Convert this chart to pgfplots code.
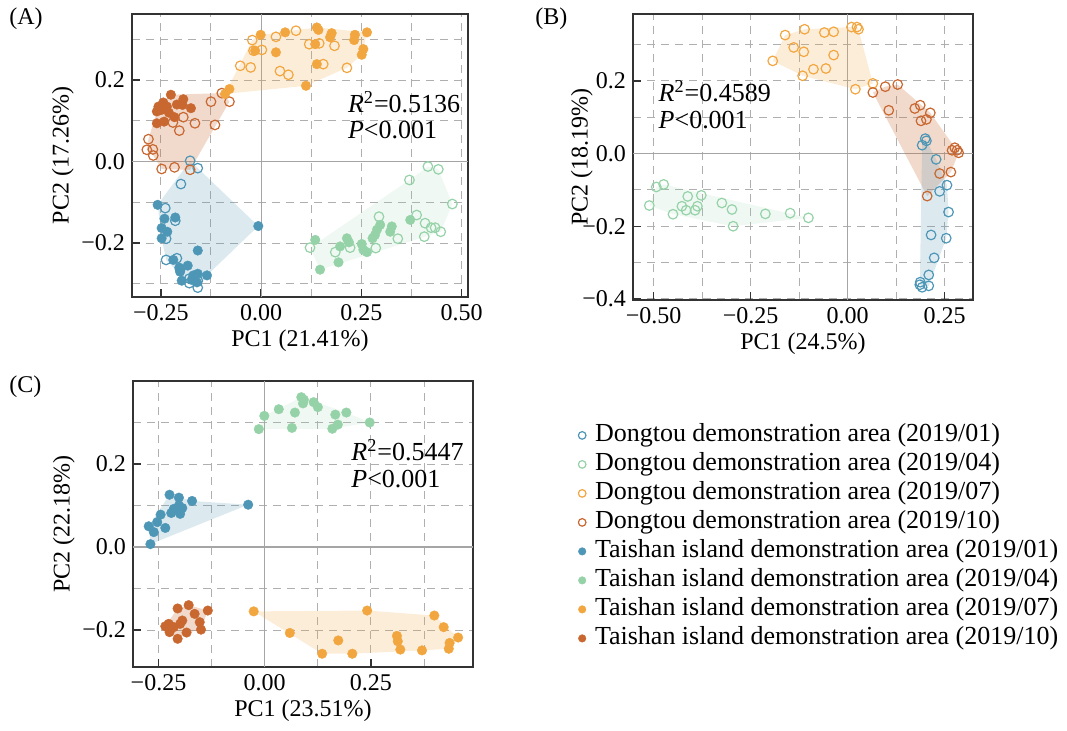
\documentclass[border=0pt]{standalone}
\usepackage{fontspec}
\setmainfont{Liberation Serif}
\usepackage{pgfplots}
\pgfplotsset{compat=1.18}
\definecolor{cB}{RGB}{78,150,182}
\definecolor{cG}{RGB}{150,210,168}
\definecolor{cO}{RGB}{242,166,64}
\definecolor{cR}{RGB}{200,104,48}
\definecolor{gridc}{RGB}{175,175,175}
\definecolor{zeroc}{RGB}{165,165,165}
\newcommand\fsA{\fontsize{12}{14}\selectfont}
\newcommand\fsB{\fontsize{13}{15}\selectfont}
\pgfplotsset{
 pcastyle/.style={
  scale only axis, anchor=south west,
  axis line style={draw=black!80, line width=0.7pt},
  tick align=inside, major tick length=4pt, minor tick length=0pt,
  tick pos=left,
  tick style={draw=black!80, line width=0.7pt},
  grid=both,
  major grid style={draw=gridc, line width=0.5pt, dash pattern=on 4pt off 3pt},
  minor grid style={draw=gridc, line width=0.5pt, dash pattern=on 4pt off 3pt},
  tick label style={font=\fsA},
  label style={font=\fsA},
  xlabel style={yshift=2pt},
  clip=true,
 },
 dopen/.style={only marks, mark=o, mark size=2.4pt, draw=#1, mark options={line width=0.6pt, draw=#1, fill=none}},
 tfill/.style={only marks, mark=*, mark size=2.4pt, draw=#1, fill=#1, mark options={draw=#1, fill=#1, line width=0.2pt}},
 hull/.style={draw=none, fill=#1, fill opacity=0.2},
}
\newcommand\zerolines{%
 \draw[zeroc, line width=0.6pt] ({axis cs:0,0} |- {rel axis cs:0,0}) -- ({axis cs:0,0} |- {rel axis cs:0,1});
 \draw[zeroc, line width=0.6pt] ({rel axis cs:0,0} |- {axis cs:0,0}) -- ({rel axis cs:1,0} |- {axis cs:0,0});
}
\begin{document}
\begin{tikzpicture}
\path[use as bounding box] (0,0) rectangle (533.5pt,365pt);

% ---------------- Panel A ----------------
\begin{axis}[pcastyle, at={(66pt,216.5pt)}, width=168pt, height=141.5pt,
 xmin=-0.322, xmax=0.516, ymin=-0.332, ymax=0.362,
 xtick={-0.25,0,0.25,0.5}, xticklabels={−0.25,0.00,0.25,0.50},
 minor xtick={-0.125,0.125,0.375},
 ytick={-0.2,0,0.2}, yticklabels={−0.2,0.0,0.2},
 minor ytick={-0.3,-0.1,0.1,0.3},
 xlabel={PC1 (21.41\%)}, ylabel={PC2 (17.26\%)}, ylabel style={yshift=-3pt}]
\zerolines
\addplot[hull=cB, fill opacity=0.2] coordinates {(-0.177,0.002) (-0.007,-0.158) (-0.135,-0.279) (-0.158,-0.309) (-0.179,-0.298) (-0.237,-0.241) (-0.248,-0.188) (-0.258,-0.106)} --cycle;
\addplot[hull=cG, fill opacity=0.15] coordinates {(0.122,-0.211) (0.147,-0.265) (0.448,-0.172) (0.477,-0.104) (0.442,-0.019) (0.416,-0.012) (0.370,-0.045)} --cycle;
\addplot[hull=cO] coordinates {(-0.090,0.166) (-0.022,0.298) (-0.001,0.311) (0.139,0.329) (0.264,0.317) (0.255,0.276) (0.251,0.262) (0.214,0.230) (0.112,0.186)} --cycle;
\addplot[hull=cR, fill opacity=0.25] coordinates {(-0.225,0.164) (-0.098,0.168) (-0.079,0.147) (-0.177,-0.020) (-0.248,-0.018) (-0.269,0.015) (-0.285,0.029) (-0.281,0.055) (-0.260,0.123) (-0.256,0.135) (-0.244,0.145)} --cycle;
% Dongtou 2019/01
\addplot[dopen=cB] coordinates {(-0.177,0.002) (-0.158,-0.016) (-0.200,-0.055) (-0.239,-0.114) (-0.214,-0.145) (-0.237,-0.189) (-0.237,-0.241) (-0.210,-0.237) (-0.202,-0.265) (-0.179,-0.287) (-0.158,-0.292) (-0.179,-0.298) (-0.158,-0.309)};
% Dongtou 2019/04
\addplot[dopen=cG] coordinates {(0.122,-0.211) (0.185,-0.222) (0.222,-0.211) (0.286,-0.212) (0.294,-0.135) (0.341,-0.189) (0.388,-0.131) (0.409,-0.151) (0.407,-0.184) (0.424,-0.162) (0.434,-0.162) (0.448,-0.172) (0.477,-0.104) (0.370,-0.045) (0.416,-0.012) (0.442,-0.019)};
% Dongtou 2019/07
\addplot[dopen=cO] coordinates {(0.087,0.321) (0.037,0.306) (-0.022,0.298) (-0.019,0.272) (0.002,0.274) (0.120,0.288) (0.145,0.290) (0.183,0.284) (0.155,0.239) (0.214,0.230) (0.047,0.222) (0.068,0.213) (-0.052,0.235) (-0.026,0.231)};
% Dongtou 2019/10
\addplot[dopen=cR] coordinates {(-0.098,0.168) (-0.079,0.147) (-0.125,0.147) (-0.165,0.094) (-0.115,0.090) (-0.194,0.109) (-0.220,0.096) (-0.204,0.076) (-0.281,0.055) (-0.285,0.029) (-0.270,0.030) (-0.269,0.015) (-0.248,-0.018) (-0.216,-0.014) (-0.177,-0.020)};
% Taishan 2019/01
\addplot[tfill=cB] coordinates {(-0.258,-0.106) (-0.241,-0.140) (-0.214,-0.137) (-0.248,-0.163) (-0.234,-0.172) (-0.248,-0.188) (-0.007,-0.158) (-0.158,-0.218) (-0.219,-0.241) (-0.204,-0.260) (-0.183,-0.255) (-0.202,-0.270) (-0.169,-0.279) (-0.158,-0.275) (-0.135,-0.279) (-0.198,-0.292) (-0.173,-0.290) (-0.160,-0.296)};
% Taishan 2019/04
\addplot[tfill=cG] coordinates {(0.135,-0.192) (0.147,-0.265) (0.193,-0.247) (0.197,-0.208) (0.214,-0.188) (0.219,-0.198) (0.251,-0.202) (0.255,-0.216) (0.264,-0.222) (0.278,-0.188) (0.284,-0.180) (0.289,-0.167) (0.297,-0.155) (0.322,-0.172) (0.326,-0.159) (0.372,-0.143)};
% Taishan 2019/07
\addplot[tfill=cO] coordinates {(-0.001,0.311) (0.060,0.317) (0.139,0.329) (0.143,0.323) (0.176,0.315) (0.172,0.305) (0.234,0.311) (0.264,0.317) (0.232,0.298) (0.255,0.276) (0.251,0.262) (0.135,0.288) (0.139,0.239) (0.037,0.268) (-0.015,0.272) (0.112,0.186) (-0.079,0.178) (-0.090,0.166)};
% Taishan 2019/10
\addplot[tfill=cR] coordinates {(-0.225,0.164) (-0.244,0.145) (-0.256,0.135) (-0.260,0.123) (-0.248,0.127) (-0.235,0.135) (-0.194,0.153) (-0.196,0.139) (-0.175,0.131) (-0.216,0.109) (-0.260,0.094) (-0.242,0.098) (-0.230,0.120) (-0.210,0.140)};
\end{axis}

% ---------------- Panel B ----------------
\begin{axis}[pcastyle, at={(316.5pt,215pt)}, width=170pt, height=143pt,
 xmin=-0.553, xmax=0.323, ymin=-0.403, ymax=0.384,
 xtick={-0.5,-0.25,0,0.25}, xticklabels={−0.50,−0.25,0.00,0.25},
 minor xtick={-0.375,-0.125,0.125},
 ytick={-0.4,-0.2,0,0.2}, yticklabels={−0.4,−0.2,0.0,0.2},
 minor ytick={-0.3,-0.1,0.1,0.3},
 xlabel={PC1 (24.5\%)}, ylabel={PC2 (18.19\%)}, ylabel style={yshift=-12pt}]
\zerolines
\addplot[hull=cO] coordinates {(-0.193,0.255) (-0.161,0.326) (-0.111,0.342) (0.010,0.348) (0.024,0.348) (0.028,0.342) (0.065,0.193) (0.020,0.177) (-0.116,0.214)} --cycle;
\addplot[hull=cR, fill opacity=0.25] coordinates {(0.065,0.168) (0.097,0.184) (0.129,0.190) (0.213,0.112) (0.286,0.002) (0.266,-0.051) (0.205,-0.117)} --cycle;
\addplot[hull=cB] coordinates {(0.192,0.023) (0.200,0.041) (0.203,0.035) (0.228,-0.016) (0.256,-0.087) (0.260,-0.161) (0.254,-0.233) (0.209,-0.364) (0.192,-0.368) (0.186,-0.361)} --cycle;
\addplot[hull=cG, fill opacity=0.15] coordinates {(-0.511,-0.143) (-0.493,-0.092) (-0.474,-0.085) (-0.101,-0.177) (-0.295,-0.200) (-0.450,-0.167)} --cycle;
% Dongtou 2019/01
\addplot[dopen=cB] coordinates {(0.200,0.041) (0.203,0.035) (0.192,0.023) (0.228,-0.016) (0.256,-0.087) (0.237,-0.104) (0.260,-0.161) (0.215,-0.224) (0.254,-0.233) (0.223,-0.287) (0.209,-0.334) (0.187,-0.354) (0.192,-0.368) (0.209,-0.364) (0.186,-0.361)};
% Dongtou 2019/04
\addplot[dopen=cG] coordinates {(-0.511,-0.143) (-0.493,-0.092) (-0.474,-0.085) (-0.450,-0.167) (-0.427,-0.145) (-0.412,-0.118) (-0.416,-0.156) (-0.393,-0.156) (-0.387,-0.145) (-0.377,-0.115) (-0.324,-0.136) (-0.298,-0.154) (-0.295,-0.200) (-0.212,-0.166) (-0.148,-0.164) (-0.101,-0.177)};
% Dongtou 2019/07
\addplot[dopen=cO] coordinates {(-0.161,0.326) (-0.111,0.342) (-0.060,0.333) (-0.036,0.335) (0.010,0.348) (0.028,0.342) (0.024,0.348) (-0.139,0.292) (-0.113,0.280) (-0.036,0.271) (-0.193,0.255) (-0.088,0.232) (-0.056,0.234) (-0.116,0.214) (0.020,0.177) (0.065,0.193)};
% Dongtou 2019/10
\addplot[dopen=cR] coordinates {(0.065,0.168) (0.097,0.184) (0.129,0.190) (0.106,0.119) (0.173,0.124) (0.187,0.133) (0.189,0.090) (0.203,0.094) (0.213,0.112) (0.269,0.009) (0.276,0.016) (0.282,0.009) (0.286,0.002) (0.237,-0.055) (0.266,-0.051) (0.205,-0.117)};
\end{axis}

% ---------------- Panel C ----------------
\begin{axis}[pcastyle, at={(66.5pt,31.5pt)}, width=170pt, height=143pt,
 xmin=-0.31, xmax=0.49, ymin=-0.289, ymax=0.40,
 xtick={-0.25,0,0.25}, xticklabels={−0.25,0.00,0.25},
 minor xtick={-0.125,0.125,0.375},
 ytick={-0.2,0,0.2}, yticklabels={−0.2,0.0,0.2},
 minor ytick={-0.1,0.1,0.3},
 xlabel={PC1 (23.51\%)}, ylabel={PC2 (22.18\%)}, ylabel style={yshift=-3pt}]
\zerolines
\addplot[hull=cG, fill opacity=0.15] coordinates {(-0.014,0.284) (-0.001,0.316) (0.086,0.361) (0.192,0.324) (0.247,0.300) (0.159,0.285)} --cycle;
\addplot[hull=cB] coordinates {(-0.269,0.007) (-0.039,0.102) (-0.171,0.111) (-0.224,0.126) (-0.273,0.050)} --cycle;
\addplot[hull=cR, fill opacity=0.25] coordinates {(-0.205,-0.148) (-0.179,-0.140) (-0.134,-0.153) (-0.150,-0.199) (-0.184,-0.206) (-0.205,-0.221) (-0.224,-0.205) (-0.234,-0.191)} --cycle;
\addplot[hull=cO] coordinates {(-0.026,-0.155) (0.241,-0.153) (0.399,-0.165) (0.455,-0.218) (0.433,-0.245) (0.370,-0.249) (0.206,-0.257) (0.135,-0.257)} --cycle;
% Taishan 2019/01
\addplot[tfill=cB] coordinates {(-0.224,0.126) (-0.202,0.119) (-0.171,0.111) (-0.039,0.102) (-0.194,0.094) (-0.214,0.092) (-0.220,0.082) (-0.199,0.080) (-0.245,0.078) (-0.253,0.060) (-0.273,0.050) (-0.234,0.046) (-0.261,0.036) (-0.269,0.007) (-0.202,0.100)};
% Taishan 2019/04
\addplot[tfill=cG] coordinates {(-0.014,0.284) (-0.001,0.316) (0.033,0.332) (0.064,0.287) (0.071,0.324) (0.086,0.361) (0.090,0.346) (0.092,0.355) (0.115,0.349) (0.125,0.337) (0.159,0.285) (0.166,0.319) (0.172,0.295) (0.192,0.324) (0.247,0.300)};
% Taishan 2019/07
\addplot[tfill=cO] coordinates {(-0.026,-0.155) (0.059,-0.207) (0.135,-0.257) (0.173,-0.225) (0.206,-0.257) (0.241,-0.153) (0.311,-0.214) (0.313,-0.227) (0.319,-0.247) (0.370,-0.249) (0.399,-0.165) (0.421,-0.193) (0.435,-0.231) (0.433,-0.245) (0.455,-0.218)};
% Taishan 2019/10
\addplot[tfill=cR] coordinates {(-0.205,-0.148) (-0.179,-0.140) (-0.165,-0.161) (-0.134,-0.153) (-0.153,-0.181) (-0.150,-0.199) (-0.194,-0.177) (-0.226,-0.185) (-0.234,-0.191) (-0.214,-0.193) (-0.224,-0.205) (-0.184,-0.206) (-0.205,-0.221) (-0.199,-0.185)};
\end{axis}

% ---------------- Legend ----------------
\begin{axis}[hide axis, scale only axis, at={(289pt,154.75pt)}, anchor=north west,
 width=10pt, height=10pt, xmin=0, xmax=1, ymin=0, ymax=1,
 legend cell align=left,
 legend image code/.code={\draw[#1, mark size=1.9pt] plot coordinates {(0pt,0pt)};},
 legend style={at={(0,1)}, anchor=north west, draw=none, fill=none, inner sep=0pt,
   font=\fsB, row sep=0pt,
   /tikz/every odd column/.append style={column sep=2.5pt},
   nodes={inner ysep=1pt, inner xsep=2pt, text height=9.5pt, text depth=3pt}}]
\addlegendimage{dopen=cB}\addlegendentry{Dongtou demonstration area (2019/01)}
\addlegendimage{dopen=cG}\addlegendentry{Dongtou demonstration area (2019/04)}
\addlegendimage{dopen=cO}\addlegendentry{Dongtou demonstration area (2019/07)}
\addlegendimage{dopen=cR}\addlegendentry{Dongtou demonstration area (2019/10)}
\addlegendimage{tfill=cB}\addlegendentry{Taishan island demonstration area (2019/01)}
\addlegendimage{tfill=cG}\addlegendentry{Taishan island demonstration area (2019/04)}
\addlegendimage{tfill=cO}\addlegendentry{Taishan island demonstration area (2019/07)}
\addlegendimage{tfill=cR}\addlegendentry{Taishan island demonstration area (2019/10)}
\end{axis}

% ---------------- Text ----------------
\node[font=\fsB, anchor=base west, inner sep=0pt] at (173.85pt,308.65pt) {\textit{R}\textsuperscript{2}=0.5136};
\node[font=\fsB, anchor=base west, inner sep=0pt] at (173.85pt,295.85pt) {\textit{P}<0.001};
\node[font=\fsB, anchor=base west, inner sep=0pt] at (329.15pt,314.15pt) {\textit{R}\textsuperscript{2}=0.4589};
\node[font=\fsB, anchor=base west, inner sep=0pt] at (329.15pt,300.85pt) {\textit{P}<0.001};
\node[font=\fsB, anchor=base west, inner sep=0pt] at (175.5pt,135pt) {\textit{R}\textsuperscript{2}=0.5447};
\node[font=\fsB, anchor=base west, inner sep=0pt] at (175.5pt,121.5pt) {\textit{P}<0.001};
\node[font=\fsA, anchor=base west, inner sep=0pt] at (4.5pt,352.5pt) {(A)};
\node[font=\fsA, anchor=base west, inner sep=0pt] at (267.5pt,352.5pt) {(B)};
\node[font=\fsA, anchor=base west, inner sep=0pt] at (4.5pt,169pt) {(C)};
\end{tikzpicture}
\end{document}
